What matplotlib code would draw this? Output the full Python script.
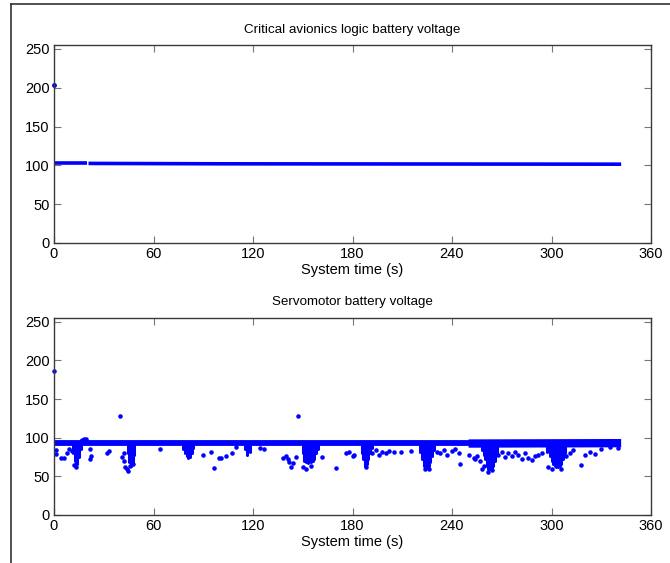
import numpy as np
import matplotlib
matplotlib.use("Agg")
import matplotlib.pyplot as plt
from matplotlib.lines import Line2D

plt.rcParams['font.family'] = ['Liberation Sans', 'DejaVu Sans']

# ---------------- data ----------------
xticks = [0, 60, 120, 180, 240, 300, 360]
yticks = [0, 50, 100, 150, 200, 250]
titles = ["Critical avionics logic battery voltage", "Servomotor battery voltage"]
xlabel = "System time (s)"

# top panel: continuous band segments and outliers
top_seg1_t = [0.3, 19.8]
top_seg1_v = [102.5, 102.5]
top_seg2_t = [20.8, 100, 342]
top_seg2_v = [102.5, 102.0, 101.5]
top_out_t = [0.0]
top_out_v = [204.0]

# bottom panel: baseline band
bot_base_t = [0, 342]
bot_base_v = [93.0, 93.0]
bot_wide_t = [250, 342]
bot_wide_v = [92.5, 93.0]

# bottom panel: dense dips (time, lowest value of the dense cluster)
dip_t = [11.5, 12.5, 13.2, 14, 15, 16,
         44.5, 45.5, 46.5, 47.5, 48.5,
         78, 79, 80, 81, 82, 83, 84,
         115, 116.5, 118,
         150, 151, 152, 153, 154, 155, 156, 157, 158, 159,
         185.5, 186.5, 187.5, 188.5, 189.5, 190.5, 192,
         221, 222, 223, 224, 225, 226, 227, 228, 229,
         258, 259, 260, 261, 262, 263, 264, 265, 266, 267,
         297, 299, 300, 301, 302, 303, 304, 305, 306, 307, 308]
dip_low = [80, 70, 62, 66, 75, 86,
           80, 68, 64, 67, 78,
           86, 80, 76, 74, 75, 80, 87,
           85, 78, 82,
           80, 70, 68, 67, 68, 68, 70, 72, 80, 86,
           80, 72, 64, 66, 72, 80, 87,
           82, 72, 64, 62, 62, 63, 68, 76, 84,
           84, 78, 72, 64, 60, 60, 61, 64, 70, 80,
           82, 76, 70, 66, 64, 62, 62, 63, 66, 72, 80]

# bottom panel: isolated points
pt_t = [0, 40, 147,
        1, 1.5, 4, 6, 8, 9, 11, 12, 13,
        16, 17, 18, 19,
        22, 22.5, 22, 31.7, 33,
        41, 42, 43, 44, 44.5, 42.5, 46, 47.5,
        64,
        90, 94.5, 96.5, 99.5, 101, 104, 107.5, 110,
        124.5, 126.5,
        138, 140, 141, 142, 143, 144, 146,
        150, 152, 155, 161.5, 170, 176, 178, 180, 181,
        188, 192, 194, 196, 198, 200, 202, 205, 209, 215,
        224, 226,
        231, 233, 235, 237, 240, 242, 244, 245,
        250, 253, 254, 255, 257, 258, 259, 262, 264, 268, 270, 272,
        274, 276, 278, 280, 282, 284, 286, 288, 290, 292, 294,
        298, 300, 306, 309, 311, 313, 318, 320, 323, 326, 330, 335, 340]
pt_v = [187, 128, 128,
        84, 79, 74, 74, 80, 86, 83, 65, 62,
        96, 97, 98, 98,
        85, 77, 72, 80, 83,
        75, 70, 62, 60, 57, 80, 63, 66,
        85,
        78, 82, 61, 74, 74, 76, 80, 88,
        87, 86,
        74, 77, 72, 68, 62, 67, 75,
        62, 60, 64, 75, 61, 80, 82, 76, 78,
        62, 80, 84, 78, 82, 80, 83, 81, 82, 83,
        59, 60,
        82, 80, 84, 78, 83, 86, 80, 66,
        78, 74, 72, 76, 70, 60, 64, 56, 58, 78, 82, 75,
        80, 76, 82, 78, 73, 80, 74, 71, 76, 78, 80,
        62, 60, 60, 76, 80, 84, 65, 78, 81, 79, 86, 88, 87]

# ---------------- figure ----------------
W, H = 670, 563
fig = plt.figure(figsize=(W / 100, H / 100), dpi=100)
blue = '#0000ff'
edge = '#3a3a3a'


def style(ax, title):
    ax.set_xlim(0, 360)
    ax.set_ylim(0, 255)
    ax.set_xticks(xticks)
    ax.set_yticks(yticks)
    ax.tick_params(direction='in', length=5, width=0.8, color='#777777',
                   top=True, right=True, labelsize=10.5, pad=3)
    for s in ax.spines.values():
        s.set_color(edge)
        s.set_linewidth(1.0)
    ax.set_title(title, fontsize=9.6, pad=9)
    ax.set_xlabel(xlabel, fontsize=10.5, labelpad=1.5)


ax1 = fig.add_axes([54 / W, 1 - 243 / H, 597 / W, 198 / H])
ax1.plot(top_seg1_t, top_seg1_v, color=blue, lw=2.6, solid_capstyle='butt')
ax1.plot(top_seg2_t, top_seg2_v, color=blue, lw=2.6, solid_capstyle='butt')
ax1.plot(top_out_t, top_out_v, '.', color=blue, ms=5, clip_on=False)
style(ax1, titles[0])

ax2 = fig.add_axes([54 / W, 1 - 515 / H, 597 / W, 197 / H])
ax2.plot(bot_base_t, bot_base_v, color=blue, lw=4.2, solid_capstyle='butt')
ax2.plot(bot_wide_t, bot_wide_v, color=blue, lw=6.0, solid_capstyle='butt')
ax2.vlines(dip_t, dip_low, [93] * len(dip_t), color=blue, lw=2.2, capstyle='round')
ax2.plot(pt_t, pt_v, '.', color=blue, ms=4.5, clip_on=False)
style(ax2, titles[1])

# outer frame lines
fig.add_artist(Line2D([11 / W, 11 / W], [0, 1 - 4 / H], color='#333333', lw=1.2))
fig.add_artist(Line2D([11 / W, 1], [1 - 4 / H, 1 - 4 / H], color='#333333', lw=1.2))

fig.savefig('out.png', dpi=100)
